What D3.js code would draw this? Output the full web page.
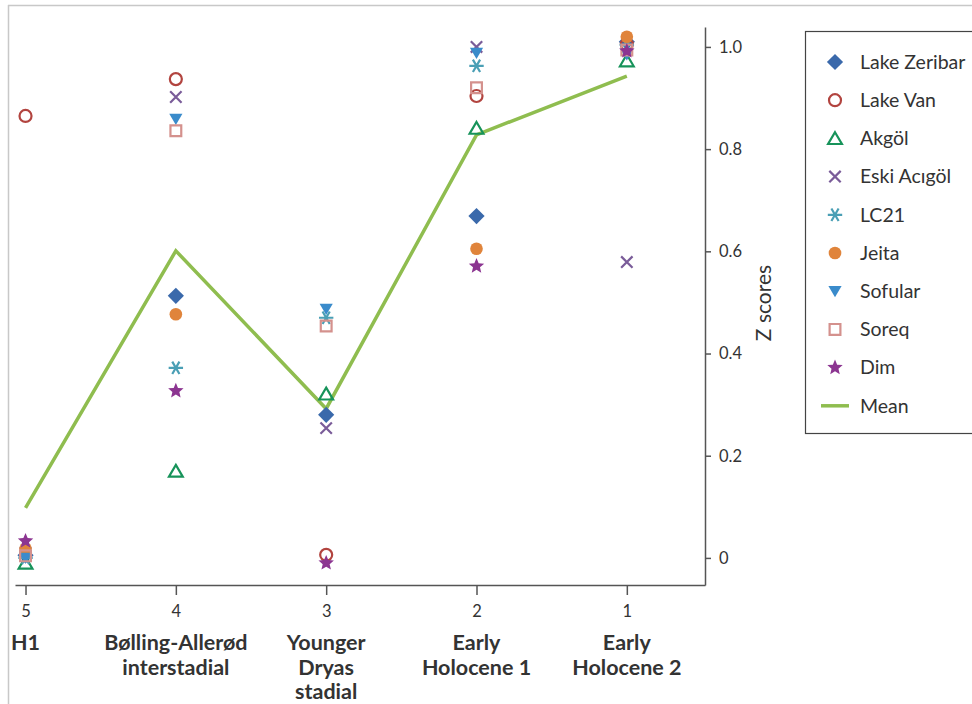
<!DOCTYPE html>
<html><head><meta charset="utf-8">
<script src="https://cdn.jsdelivr.net/npm/d3@7"></script>
<style>
html,body{margin:0;padding:0;background:#fff;overflow:hidden}
svg{display:block;font-family:Lato,"Open Sans",sans-serif}
</style></head>
<body>
<svg id="chart" width="972" height="704"></svg>
<script>
// ---- data ----
const stages = [5, 4, 3, 2, 1];
const stageLabels = [["H1"], ["Bølling-Allerød", "interstadial"], ["Younger", "Dryas", "stadial"], ["Early", "Holocene 1"], ["Early", "Holocene 2"]];
const seriesNames = ["Lake Zeribar", "Lake Van", "Akgöl", "Eski Acıgöl", "LC21", "Jeita", "Sofular", "Soreq", "Dim"];
const lakeZeribar = [0.005, 0.513, 0.280, 0.669, 1.010];
const lakeVan     = [0.865, 0.937, 0.006, 0.904, 1.005];
const akgol       = [-0.010, 0.170, 0.321, 0.841, 0.973];
const eskiAcigol  = [0.010, 0.902, 0.254, 1.000, 0.579];
const lc21        = [0.000, 0.372, 0.470, 0.963, 1.004];
const jeita       = [0.018, 0.477, null, 0.605, 1.020];
const sofular     = [0.000, 0.859, 0.487, 0.988, 0.985];
const soreq       = [0.004, 0.836, 0.454, 0.920, 0.994];
const dim         = [0.033, 0.327, -0.010, 0.571, 0.992];
const meanValues  = [0.098, 0.601, 0.292, 0.828, 0.943];
const yTicks = [0, 0.2, 0.4, 0.6, 0.8, 1.0];

const seriesValues = [lakeZeribar, lakeVan, akgol, eskiAcigol, lc21, jeita, sofular, soreq, dim];
const colors = ["#3a69ab", "#b2443f", "#17935a", "#7a5c99", "#4a9fb5", "#e0843b", "#3a8bcb", "#d4918d", "#8c3591"];
const kinds = ["diamond", "ocircle", "otri", "times", "asterisk", "fcircle", "dtri", "osquare", "star"];

// ---- custom symbol shapes ----
const shapes = {
  diamond: {draw(c, s){ const r = Math.sqrt(s)/2*1.35; c.moveTo(0,-r); c.lineTo(r,0); c.lineTo(0,r); c.lineTo(-r,0); c.closePath(); }},
  ocircle: {draw(c, s){ const r = Math.sqrt(s)/2; c.moveTo(r,0); c.arc(0,0,r,0,2*Math.PI); }},
  fcircle: {draw(c, s){ const r = Math.sqrt(s)/2*1.05; c.moveTo(r,0); c.arc(0,0,r,0,2*Math.PI); }},
  otri: {draw(c, s){ const r = Math.sqrt(s)/2*1.15; const h = r*0.9; c.moveTo(0,-h); c.lineTo(r,h*0.9); c.lineTo(-r,h*0.9); c.closePath(); }},
  dtri: {draw(c, s){ const r = Math.sqrt(s)/2*1.1; c.moveTo(-r,-r*0.8); c.lineTo(r,-r*0.8); c.lineTo(0,r*0.9); c.closePath(); }},
  osquare: {draw(c, s){ const r = Math.sqrt(s)/2*0.9; c.rect(-r,-r,2*r,2*r); }},
  times: {draw(c, s){ const r = Math.sqrt(s)/2*0.95; c.moveTo(-r,-r); c.lineTo(r,r); c.moveTo(r,-r); c.lineTo(-r,r); }},
  asterisk: {draw(c, s){ const r = Math.sqrt(s)/2*1.2; for (const a of [0, 60, 120]) { const t = a*Math.PI/180; c.moveTo(-r*Math.cos(t), -r*Math.sin(t)); c.lineTo(r*Math.cos(t), r*Math.sin(t)); } }},
  star: {draw(c, s){ const R = Math.sqrt(s)/2*1.35, ri = R*0.45; for (let i=0;i<10;i++){ const rr = i%2 ? ri : R; const t = -Math.PI/2 + i*Math.PI/5; const px = rr*Math.cos(t), py = rr*Math.sin(t); i ? c.lineTo(px,py) : c.moveTo(px,py);} c.closePath(); }}
};
const filled = {diamond:true, fcircle:true, dtri:true, star:true};
const symSize = 144;

const svg = d3.select("#chart");

// frame lines
svg.append("line").attr("x1", 8).attr("x2", 972).attr("y1", 5.5).attr("y2", 5.5).attr("stroke", "#c8c8c8").attr("stroke-width", 1.5);
svg.append("line").attr("x1", 8.5).attr("x2", 8.5).attr("y1", 5).attr("y2", 704).attr("stroke", "#c8c8c8").attr("stroke-width", 1.5);

// scales
const x = d3.scaleLinear().domain([5.07, 0.48]).range([15, 705]);
const y = d3.scaleLinear().domain([-0.053, 1.039]).range([585, 27]);

// x axis
const xAxis = svg.append("g").attr("transform", "translate(0,585)")
  .call(d3.axisBottom(x).tickValues(stages).tickFormat(d3.format("d")).tickSize(10).tickSizeOuter(0).tickPadding(10));
xAxis.select(".domain").attr("stroke", "#555").attr("stroke-width", 1.5);
xAxis.selectAll(".tick line").attr("stroke", "#555").attr("stroke-width", 1.5);
xAxis.selectAll(".tick text").attr("font-size", 16.5).attr("fill", "#333").attr("font-family", "Lato, sans-serif");

// stage labels
stages.forEach((s, i) => {
  const t = svg.append("text").attr("x", x(s)).attr("y", 650).attr("text-anchor", "middle")
    .attr("font-size", 21.5).attr("font-weight", "bold").attr("fill", "#333");
  stageLabels[i].forEach((ln, j) => {
    t.append("tspan").attr("x", x(s)).attr("dy", j ? 24.5 : 0).text(ln);
  });
});

// y axis (right)
const yAxis = svg.append("g").attr("transform", "translate(705,0)")
  .call(d3.axisRight(y).tickValues(yTicks).tickFormat(d => d === 0 ? "0" : d3.format(".1f")(d)).tickSize(6).tickSizeOuter(0).tickPadding(8));
yAxis.select(".domain").attr("stroke", "#555").attr("stroke-width", 1.5);
yAxis.selectAll(".tick line").attr("stroke", "#555").attr("stroke-width", 1.5);
yAxis.selectAll(".tick text").attr("font-size", 16.5).attr("fill", "#333").attr("font-family", "Lato, sans-serif");

svg.append("text").attr("transform", "translate(771,303) rotate(-90)").attr("text-anchor", "middle")
  .attr("font-size", 21).attr("fill", "#333").text("Z scores");

// mean line
const line = d3.line().x((d, i) => x(stages[i])).y(d => y(d));
svg.append("path").datum(meanValues).attr("d", line).attr("fill", "none")
  .attr("stroke", "#8fbd4f").attr("stroke-width", 3.5).attr("stroke-linejoin", "miter");

// markers
const sym = d3.symbol().size(symSize);
seriesValues.forEach((vals, k) => {
  const kind = kinds[k];
  const g = svg.append("g");
  vals.forEach((v, i) => {
    if (v === null) return;
    const p = g.append("path").attr("d", sym.type(shapes[kind])())
      .attr("transform", `translate(${x(stages[i])},${y(v)})`);
    if (filled[kind]) p.attr("fill", colors[k]).attr("stroke", "none");
    else p.attr("fill", "none").attr("stroke", colors[k]).attr("stroke-width", 2.2);
  });
});

// legend
const lg = svg.append("g");
lg.append("rect").attr("x", 805.5).attr("y", 31.5).attr("width", 200).attr("height", 402)
  .attr("fill", "#fff").attr("stroke", "#444").attr("stroke-width", 1.2);
const legendItems = seriesNames.concat(["Mean"]);
legendItems.forEach((name, k) => {
  const cy = 62 + k * 38.2;
  if (k < seriesNames.length) {
    const kind = kinds[k];
    const p = lg.append("path").attr("d", sym.type(shapes[kind])()).attr("transform", `translate(835,${cy})`);
    if (filled[kind]) p.attr("fill", colors[k]);
    else p.attr("fill", "none").attr("stroke", colors[k]).attr("stroke-width", 2.2);
  } else {
    lg.append("line").attr("x1", 821).attr("x2", 849).attr("y1", cy).attr("y2", cy)
      .attr("stroke", "#8fbd4f").attr("stroke-width", 3.5);
  }
  lg.append("text").attr("x", 860).attr("y", cy).attr("dy", "0.35em").attr("font-size", 19.5)
    .attr("fill", "#333").text(name);
});
</script>
</body></html>
